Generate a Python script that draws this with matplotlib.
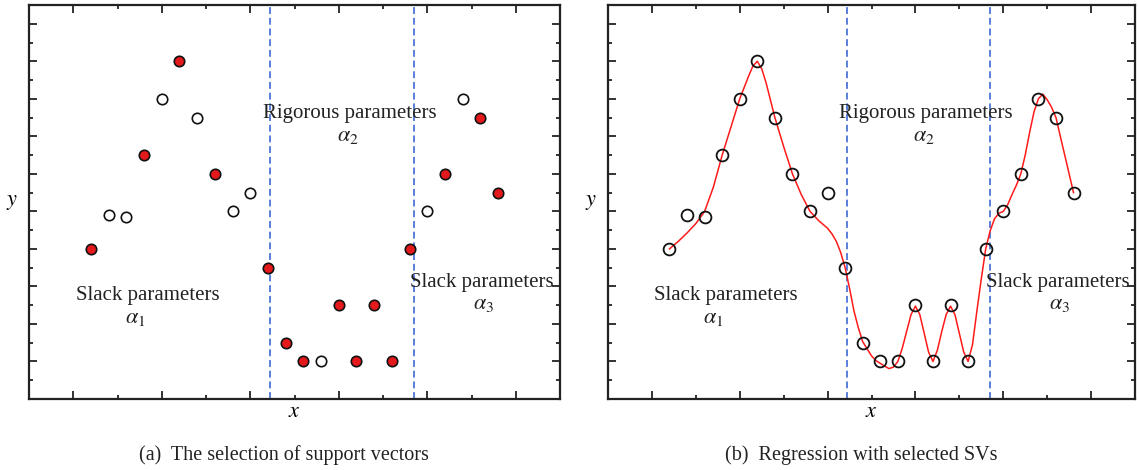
import matplotlib
matplotlib.use('Agg')
import matplotlib.pyplot as plt
from matplotlib.ticker import MultipleLocator

plt.rcParams['font.family'] = ['Liberation Serif', 'DejaVu Serif']
plt.rcParams['mathtext.fontset'] = 'stix'

# sample positions and values (same in both panels)
xs = list(range(1, 25))
ys = [8.0, 9.8, 9.7, 13.0, 16.0, 18.0, 15.0, 12.0, 10.0, 11.0, 7.0, 3.0,
      2.0, 2.0, 5.0, 2.0, 5.0, 2.0, 8.0, 10.0, 12.0, 16.0, 15.0, 11.0]
# which samples were picked as support vectors (red) in panel (a)
is_sv = [1, 0, 0, 1, 0, 1, 0, 1, 0, 0, 1, 1, 1, 0, 1, 1, 1, 1, 1, 0, 1, 0, 1, 1]

# regression curve
curve_x = [1, 1.5, 2, 2.5, 3, 3.5, 4, 4.5, 5, 5.5, 5.75, 6, 6.25, 6.5, 7, 7.5,
           8, 8.5, 9, 9.25, 9.5, 9.75, 10, 10.25, 10.5, 10.75, 11, 11.25, 11.5,
           11.75, 12, 12.5, 12.75, 13, 13.25, 13.5, 13.75, 14, 14.25, 14.5,
           14.75, 15, 15.25, 15.5, 15.75, 16, 16.25, 16.5, 16.75, 17, 17.25,
           17.5, 17.75, 18, 18.25, 18.5, 18.75, 19, 19.25, 19.5, 19.75, 20,
           20.25, 20.5, 20.75, 21, 21.25, 21.5, 21.75, 22, 22.25, 22.5, 22.75,
           23, 23.5, 24]
curve_y = [8.0, 8.4, 8.85, 9.35, 10.0, 11.3, 13.0, 14.5, 16.0, 17.2, 17.75,
           18.0, 17.6, 16.85, 15.0, 13.45, 12.0, 10.9, 10.0, 9.75, 9.5, 9.3,
           9.1, 8.8, 8.4, 7.8, 7.0, 5.9, 4.7, 3.8, 3.05, 2.3, 2.05, 1.9, 1.75,
           1.62, 1.7, 2.0, 2.7, 3.6, 4.5, 4.95, 4.5, 3.5, 2.5, 2.0, 2.6, 3.6,
           4.5, 4.95, 4.5, 3.5, 2.5, 2.0, 2.9, 4.7, 6.4, 8.0, 8.95, 9.6, 9.9,
           10.0, 10.35, 10.9, 11.4, 12.0, 13.0, 14.2, 15.3, 16.0, 16.25, 15.95,
           15.55, 15.0, 13.0, 11.0]

split_x = [11.1, 19.25]

captions = ['(a)  The selection of support vectors', '(b)  Regression with selected SVs']

fig = plt.figure(figsize=(11.39, 4.70), dpi=100)
ax1 = fig.add_axes([29/1139, 71/470, 531/1139, 394/470])
ax2 = fig.add_axes([608/1139, 71/470, 527/1139, 394/470])

for ax in (ax1, ax2):
    ax.set_xlim(-2.5, 27.5)
    ax.set_ylim(0, 21)
    ax.xaxis.set_major_locator(MultipleLocator(5))
    ax.xaxis.set_minor_locator(MultipleLocator(2.5))
    ax.yaxis.set_major_locator(MultipleLocator(2))
    ax.yaxis.set_minor_locator(MultipleLocator(1))
    ax.tick_params(which='both', direction='in', top=True, right=True,
                   labelbottom=False, labelleft=False, width=1.3, color='#222222')
    ax.tick_params(which='major', length=6)
    ax.tick_params(which='minor', length=3)
    for s in ax.spines.values():
        s.set_linewidth(1.6)
        s.set_color('#222222')
    for sx in split_x:
        ax.axvline(sx, color='#2e5bd0', lw=1.1, ls=(0, (4.5, 2.5)), zorder=1)
    ax.set_xlabel('$x$', fontsize=16, labelpad=3)
    ax.set_ylabel('$y$', fontsize=16, rotation=0, labelpad=12, va='center')
    ax.text(15.6, 15.2, 'Rigorous parameters', ha='center', va='center', fontsize=15, color='#222222')
    ax.text(15.5, 14.0, r'$\alpha_2$', ha='center', va='center', fontsize=16, color='#222222')
    ax.text(4.2, 5.5, 'Slack parameters', ha='center', va='center', fontsize=15, color='#222222')
    ax.text(3.5, 4.3, r'$\alpha_1$', ha='center', va='center', fontsize=16, color='#222222')
    ax.text(23.1, 6.2, 'Slack parameters', ha='center', va='center', fontsize=15, color='#222222')
    ax.text(23.2, 5.05, r'$\alpha_3$', ha='center', va='center', fontsize=16, color='#222222')

# panel (a): support vectors in red, the rest open
for x, y, sv in zip(xs, ys, is_sv):
    ax1.plot(x, y, 'o', ms=7.5, mec='#111111', mew=1.2,
             mfc='#e3191c' if sv else 'white', zorder=3)

# panel (b): regression curve over all samples
ax2.plot(curve_x, curve_y, color='#ff1a1a', lw=1.1, zorder=2)
ax2.plot(xs, ys, 'o', ms=8.5, mec='#111111', mew=1.3, mfc='none', zorder=3)

fig.text(284/1139, 1 - 455/470, captions[0], ha='center', va='center', fontsize=14.5, color='#222222')
fig.text(861/1139, 1 - 455/470, captions[1], ha='center', va='center', fontsize=14.5, color='#222222')

fig.savefig('out.png', dpi=100)
